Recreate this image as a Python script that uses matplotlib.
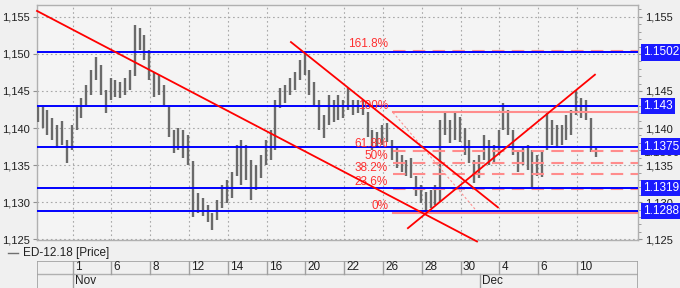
import matplotlib
matplotlib.use("Agg")
import matplotlib.pyplot as plt
import matplotlib.transforms as mtransforms
from matplotlib.ticker import FuncFormatter, MultipleLocator
from matplotlib.lines import Line2D

plt.rcParams['font.family'] = ['Liberation Sans', 'DejaVu Sans']

# price bars (4 per trading day), high / low
highs = [1.1431, 1.1428, 1.1424, 1.1414, 1.1404, 1.1409, 1.1384, 1.1404, 1.1431, 1.1441,
         1.1458, 1.1478, 1.1496, 1.1485, 1.1451, 1.1468, 1.1465, 1.1462, 1.1468, 1.1478,
         1.1539, 1.1535, 1.1526, 1.1505, 1.1476, 1.1472, 1.1458, 1.1431, 1.1397, 1.1400,
         1.1397, 1.1391, 1.1355, 1.1312, 1.1305, 1.1296, 1.1286, 1.1303, 1.1323, 1.1330,
         1.1341, 1.1377, 1.1384, 1.1377, 1.1357, 1.1350, 1.1364, 1.1384, 1.1397, 1.1438,
         1.1454, 1.1458, 1.1468, 1.1476, 1.1492, 1.1503, 1.1478, 1.1462, 1.1438, 1.1418,
         1.1445, 1.1438, 1.1445, 1.1438, 1.1454, 1.1438, 1.1438, 1.1438, 1.1422, 1.1397,
         1.1395, 1.1404, 1.1407, 1.1384, 1.1373, 1.1364, 1.1357, 1.1359, 1.1336, 1.1323,
         1.1314, 1.1316, 1.1323, 1.1411, 1.1420, 1.1411, 1.1420, 1.1415, 1.1400, 1.1384,
         1.1357, 1.1364, 1.1391, 1.1384, 1.1377, 1.1397, 1.1434, 1.1424, 1.1397, 1.1370,
         1.1373, 1.1377, 1.1370, 1.1364, 1.1370, 1.1422, 1.1411, 1.1404, 1.1404, 1.1418,
         1.1424, 1.1451, 1.1441, 1.1438, 1.1414, 1.1373]
lows = [1.1408, 1.1400, 1.1391, 1.1384, 1.1373, 1.1377, 1.1353, 1.1370, 1.1397, 1.1414,
        1.1431, 1.1445, 1.1465, 1.1445, 1.1420, 1.1438, 1.1442, 1.1441, 1.1445, 1.1451,
        1.1470, 1.1505, 1.1492, 1.1465, 1.1442, 1.1445, 1.1431, 1.1388, 1.1366, 1.1370,
        1.1359, 1.1350, 1.1280, 1.1286, 1.1282, 1.1273, 1.1262, 1.1276, 1.1292, 1.1299,
        1.1305, 1.1336, 1.1323, 1.1330, 1.1303, 1.1316, 1.1332, 1.1350, 1.1357, 1.1370,
        1.1427, 1.1434, 1.1445, 1.1451, 1.1465, 1.1472, 1.1445, 1.1431, 1.1397, 1.1386,
        1.1404, 1.1408, 1.1411, 1.1414, 1.1424, 1.1418, 1.1420, 1.1418, 1.1388, 1.1370,
        1.1373, 1.1377, 1.1381, 1.1357, 1.1346, 1.1341, 1.1336, 1.1332, 1.1309, 1.1299,
        1.1286, 1.1292, 1.1296, 1.1300, 1.1391, 1.1380, 1.1384, 1.1381, 1.1364, 1.1353,
        1.1326, 1.1332, 1.1357, 1.1350, 1.1353, 1.1364, 1.1397, 1.1391, 1.1364, 1.1341,
        1.1350, 1.1343, 1.1319, 1.1336, 1.1334, 1.1370, 1.1377, 1.1373, 1.1377, 1.1384,
        1.1391, 1.1418, 1.1414, 1.1411, 1.1368, 1.1361]
bar_start = 0.2
bar_step = 0.25

# date axis (trading-day units)
tick_days = [2, 4, 6, 8, 10, 12, 14, 16, 18, 20, 22, 24, 26, 28]
tick_labels = ['1', '6', '8', '12', '14', '16', '20', '22', '26', '28', '30', '4', '6', '10']
month_days = [2, 23]
month_labels = ['Nov', 'Dec']

# horizontal support / resistance levels
levels = [1.1502, 1.143, 1.1375, 1.1319, 1.1288]
level_labels = ['1.1502', '1.143', '1.1375', '1.1319', '1.1288']
last_price = 1.1366

# trend lines: (start day, end day), (start price, end price)
trend_days = [(0.16, 22.84), (13.25, 23.92), (19.28, 28.92)]
trend_prices = [(1.1558, 1.1247), (1.1516, 1.1293), (1.1265, 1.1472)]

# fibonacci retracement
fib_low = 1.1286
fib_high = 1.1421
fib_ratios = [0.0, 0.236, 0.382, 0.5, 0.618, 1.0, 1.618]
fib_labels = ['0%', '23.6%', '38.2%', '50%', '61.8%', '100%', '161.8%']
fib_start = 18.51
fib_end = 22.89

W, H = 680, 288
fig = plt.figure(figsize=(W / 100, H / 100), dpi=100, facecolor='#f0f0f0')
ax = fig.add_axes([37 / W, 1 - 240 / H, (638 - 37) / W, 235 / H])
ax.set_facecolor('#f4f4f4')
ax.set_xlim(0.16, 31.14)
ax.set_ylim(1.1249, 1.1566)

ax.set_xticks(tick_days)
ax.set_yticks([1.125, 1.130, 1.135, 1.140, 1.145, 1.150, 1.155])
ax.yaxis.set_minor_locator(MultipleLocator(0.001))
ax.yaxis.set_major_formatter(FuncFormatter(lambda v, p: f"{v:.3f}".replace('.', ',')))
ax.tick_params(axis='x', length=0, labelbottom=False)
ax.tick_params(axis='y', which='major', left=True, right=True, labelleft=True, labelright=True,
               length=3, width=0.8, color='#909090', labelsize=8, labelcolor='#202020', pad=2)
ax.tick_params(axis='y', which='minor', left=False, right=True, length=2, width=0.6, color='#909090')
ax.grid(True, linestyle=(0, (1.5, 2.5)), color='#a8a8a8', lw=0.8)
ax.set_axisbelow(True)
for s in ax.spines.values():
    s.set_color('#b0b0b0')
    s.set_linewidth(1.0)

# price bars
xs = [bar_start + bar_step * i for i in range(len(highs))]
ax.vlines(xs, lows, highs, color='#6a6a6a', lw=1.7, zorder=3)

# levels
trans = mtransforms.blended_transform_factory(ax.transAxes, ax.transData)
for lv, lb in zip(levels, level_labels):
    ax.axhline(lv, color='#0000ff', lw=1.4, zorder=5)
ax.text(1.008, last_price, '1.1366', transform=trans, ha='left', va='center',
        fontsize=8.5, color='#303030', clip_on=False, zorder=6)
for lv, lb in zip(levels, level_labels):
    ax.text(1.008, lv, lb, transform=trans, ha='left', va='center', fontsize=8.5,
            color='white', clip_on=False, zorder=7,
            bbox=dict(boxstyle='square,pad=0.18', fc='#1a1aff', ec='none'))

# fibonacci
rng = fib_high - fib_low
for r, lb in zip(fib_ratios, fib_labels):
    p = fib_low + r * rng
    if r in (0.0, 1.0):
        ax.plot([fib_start, ax.get_xlim()[1]], [p, p], color='#ff8c8c', lw=1.5, zorder=4)
    else:
        ax.plot([fib_start, ax.get_xlim()[1]], [p, p], color='#ff8c8c', lw=1.5,
                dashes=(6, 3.5), zorder=4)
    ax.text(fib_start - 0.25, p + 0.0001, lb, ha='right', va='bottom', fontsize=8.5,
            color='#ff3030', zorder=6)
ax.plot([fib_start, fib_end], [fib_high, fib_low], color='#ff9090', lw=0.8,
        dashes=(2, 2), zorder=4)

# trend lines
for d, p in zip(trend_days, trend_prices):
    ax.plot(d, p, color='#ff0000', lw=1.3, zorder=6, clip_on=False)

# legend
fig.add_artist(Line2D([8 / W, 18 / W], [1 - 253 / H, 1 - 253 / H], color='#707070', lw=1))
fig.text(23 / W, 1 - 253 / H, 'ED-12.18 [Price]', fontsize=8.5, va='center', color='#202020')

# date panel
ax2 = fig.add_axes([37 / W, 0, (638 - 37) / W, 27 / H])
ax2.set_facecolor('#f0f0f0')
ax2.set_xlim(ax.get_xlim())
ax2.set_ylim(0, 27)
ax2.set_axis_off()
ax2.axhline(27, color='#a0a0a0', lw=1.2)
ax2.axhline(14, color='#b0b0b0', lw=1.0)
ax2.axvline(ax.get_xlim()[0], color='#a0a0a0', lw=1.2)
ax2.axvline(ax.get_xlim()[1], color='#a0a0a0', lw=1.2)
for d, lb in zip(tick_days, tick_labels):
    ax2.plot([d, d], [14, 27], color='#a0a0a0', lw=1.0)
    ax2.text(d + 0.12, 20.5, lb, ha='left', va='center', fontsize=8.5, color='#202020')
for d, lb in zip(month_days, month_labels):
    ax2.plot([d, d], [0, 14], color='#a0a0a0', lw=1.0)
    ax2.text(d + 0.12, 7, lb, ha='left', va='center', fontsize=8.5, color='#202020')

fig.savefig('out.png', dpi=100, facecolor=fig.get_facecolor())
